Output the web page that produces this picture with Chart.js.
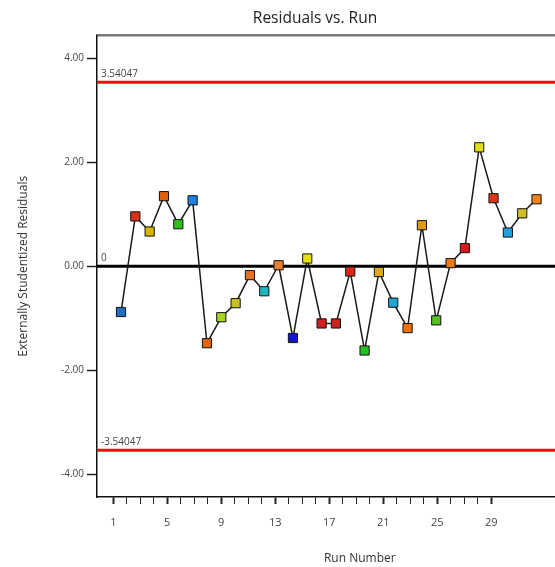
<!DOCTYPE html>
<html>
<head>
<meta charset="utf-8">
<script src="https://cdn.jsdelivr.net/npm/chart.js@4"></script>
<style>
  html, body { margin: 0; padding: 0; background: #fff; overflow: hidden; }
  #wrap { width: 630px; height: 567px; }
</style>
</head>
<body>
<div id="wrap"><canvas id="chart"></canvas></div>
<script>
// run numbers and residuals
const runs = [1,2,3,4,5,6,7,8,9,10,11,12,13,14,15,16,17,18,19,20,21,22,23,24,25,26,27,28,29,30];
const residuals = [-0.88, 0.96, 0.67, 1.35, 0.81, 1.27, -1.48, -0.98, -0.71, -0.17,
  -0.48, 0.02, -1.38, 0.15, -1.10, -1.10, -0.10, -1.62, -0.11, -0.70,
  -1.19, 0.79, -1.04, 0.06, 0.35, 2.29, 1.31, 0.65, 1.02, 1.29];
const pointColors = ['#1f6fc0','#d83018','#d8b400','#e06010','#30c020','#1e7fe0','#e06408','#a8d428','#c8c020','#e87020',
  '#20b8c0','#e88030','#1414c8','#e8e000','#d02020','#d02020','#d82818','#28c028','#e0a818','#20a8d0',
  '#f07008','#e09c10','#58c020','#e87818','#d81818','#e0e010','#d83818','#20a0e0','#d0c020','#f08018'];
const limit = 3.54047;
const limitLabels = ['3.54047', '0', '-3.54047'];
const yTicks = [-4, -2, 0, 2, 4];
const xTickFirst = 1, xTickLast = 29;

const xMin = -0.674, xMax = 36.0;
const fontFam = "'Open Sans', 'Noto Sans', sans-serif";

const hLine = (y, color, w) => ({
  data: [{x: xMin, y: y}, {x: xMax, y: y}],
  borderColor: color, borderWidth: w, pointRadius: 0, xAxisID: 'x', order: 2
});

const lineLabels = {
  id: 'lineLabels',
  afterDatasetsDraw(chart) {
    const ctx = chart.ctx, y = chart.scales.y, left = chart.chartArea.left;
    ctx.save();
    ctx.font = '10px ' + fontFam;
    ctx.fillStyle = '#444';
    ctx.textBaseline = 'bottom';
    [limit, 0, -limit].forEach((v, i) => {
      ctx.fillText(limitLabels[i], left + 4, y.getPixelForValue(v) - 3);
    });
    ctx.restore();
  }
};

new Chart(document.getElementById('chart'), {
  type: 'line',
  data: {
    datasets: [
      {
        data: runs.map((r, i) => ({x: r, y: residuals[i]})),
        borderColor: '#1a1a1a',
        borderWidth: 1.5,
        tension: 0,
        pointStyle: 'rect',
        pointRadius: 6.5,
        pointBorderColor: '#111',
        pointBorderWidth: 1,
        pointBackgroundColor: pointColors,
        xAxisID: 'x',
        order: 1
      },
      hLine(limit, '#f01010', 3),
      hLine(0, '#000', 3),
      hLine(-limit, '#f01010', 3)
    ]
  },
  options: {
    animation: false,
    responsive: true,
    maintainAspectRatio: false,
    layout: { padding: 0 },
    plugins: {
      legend: { display: false },
      tooltip: { enabled: false },
      title: {
        display: true,
        text: 'Residuals vs. Run',
        color: '#222',
        font: { family: fontFam, size: 15.5, weight: 'normal' },
        padding: { top: 9, bottom: 8 }
      }
    },
    scales: {
      x: {
        type: 'linear', min: xMin, max: xMax, display: false
      },
      xTicks: {
        type: 'linear', position: 'bottom', min: -0.206, max: 38.73,
        afterBuildTicks(s) {
          s.ticks = [];
          for (let v = xTickFirst; v <= xTickLast; v++) s.ticks.push({value: v});
        },
        afterFit(s) { s.height = 70; },
        ticks: {
          autoSkip: false, maxRotation: 0, padding: 12,
          color: '#444',
          font: { family: fontFam, size: 11 },
          callback: v => ((v - 1) % 4 === 0 ? String(v) : '')
        },
        grid: {
          drawOnChartArea: false, tickLength: 7,
          tickColor: '#222',
          tickWidth: c => ((c.tick.value - 1) % 4 === 0 ? 2 : 1)
        },
        border: { color: '#111', width: 1.5 },
        title: {
          display: true, text: 'Run Number', color: '#333',
          font: { family: fontFam, size: 12 },
          padding: { top: 1, bottom: 1 }
        }
      },
      top: {
        type: 'linear', position: 'top', min: 0, max: 1,
        afterFit(s) { s.height = 0; },
        ticks: { display: false },
        grid: { display: false, drawTicks: false },
        border: { color: '#777', width: 2.5 }
      },
      y: {
        min: -4.44, max: 4.44,
        afterBuildTicks(s) { s.ticks = yTicks.map(v => ({value: v})); },
        afterFit(s) { s.width = 97; },
        ticks: {
          padding: 3, color: '#444',
          font: { family: fontFam, size: 10 },
          callback: v => v.toFixed(2)
        },
        grid: { drawOnChartArea: false, tickLength: 10, tickColor: '#222', tickWidth: 1.5 },
        border: { color: '#111', width: 1.5 },
        title: {
          display: true, text: 'Externally Studentized Residuals', color: '#333',
          font: { family: fontFam, size: 12 },
          padding: { top: 16, bottom: 0 }
        }
      }
    }
  },
  plugins: [lineLabels]
});
</script>
</body>
</html>
